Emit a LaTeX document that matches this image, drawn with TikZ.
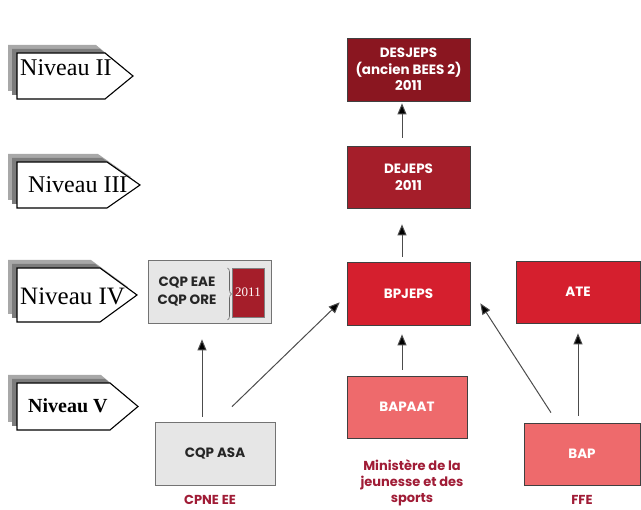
\documentclass[tikz,border=0pt]{standalone}
\usepackage{fontspec}
\setmainfont{Liberation Serif}
\newfontfamily\gothic{Poppins}
\usetikzlibrary{arrows.meta,decorations.pathreplacing,calc}
\definecolor{cdark}{HTML}{8A1620}
\definecolor{cmid}{HTML}{A51E2A}
\definecolor{cred}{HTML}{D51F2E}
\definecolor{cpink}{HTML}{EE6A6C}
\definecolor{clab}{HTML}{A01C36}
\definecolor{cqpfill}{HTML}{E6E6E6}
\definecolor{shadA}{HTML}{A8A8A8}
\definecolor{shadB}{HTML}{7C7C7C}
\newcommand{\nivshape}[5]{%
  \fill[shadA] (#1-9,#2-8) -- (#4-9,#2-8) -- (#5-9,{(#2+#3)/2-8}) -- (#4-9,#3-8) -- (#1-9,#3-8) -- cycle;
  \fill[shadB] (#1-5,#2-4) -- (#4-5,#2-4) -- (#5-5,{(#2+#3)/2-4}) -- (#4-5,#3-4) -- (#1-5,#3-4) -- cycle;
  \draw[fill=white,line width=1.1pt,line join=miter] (#1,#2) -- (#4,#2) -- (#5,{(#2+#3)/2}) -- (#4,#3) -- (#1,#3) -- cycle;}
\begin{document}
\begin{tikzpicture}[x=1pt,y=-1pt,
  box/.style={draw=black!75,line width=0.7pt,minimum width=123pt,minimum height=63pt,inner sep=0pt,align=center,text=white,font=\gothic\bfseries\fontsize{13.5}{16.5}\selectfont},
  cqpbox/.style={box,fill=cqpfill,draw=black!55,text=black!85},
  lab/.style={align=center,text=clab,font=\gothic\bfseries\fontsize{13}{16}\selectfont},
  niv/.style={anchor=base west,inner sep=0pt,font=\fontsize{24}{24}\selectfont},
  arr/.style={draw=black!70,line width=1pt,-{Triangle[length=11pt,width=9pt,fill=black]}}
]
\useasboundingbox (0,0) rectangle (641,510);

% niveau arrows
\nivshape{17}{53}{99}{105}{133}
\node[niv] (n2) at (20,76) {Niveau II};
\nivshape{17}{162}{208}{107}{140}
\node[niv] (n3) at (28,193) {Niveau III};
\nivshape{17}{268}{322}{100}{137}
\node[niv,font=\fontsize{25}{25}\selectfont] (n4) at (20,305) {Niveau IV};
\nivshape{17}{383}{430}{110}{138}
\node[niv,font=\bfseries\fontsize{20}{20}\selectfont] (n5) at (28,413) {Niveau V};

% boxes
\node[box,fill=cdark] (desj) at (408.5,69.5) {DESJEPS\\(ancien BEES 2)\\2011};
\node[box,fill=cmid,minimum height=62pt] (dej) at (408.5,177) {DEJEPS\\2011};
\node[box,fill=cred] (bp) at (408.5,293.5) {BPJEPS};
\node[box,fill=cred,minimum width=124pt,minimum height=62pt] (ate) at (578,292) {ATE};
\node[box,fill=cpink,minimum width=120pt,minimum height=62pt] (bapaat) at (407,407) {BAPAAT};
\node[box,fill=cpink,minimum width=116pt,minimum height=62pt] (bap) at (582,454) {BAP};
\node[cqpbox,minimum width=120pt] (asa) at (215,453.5) {CQP ASA};
\node[cqpbox] (eae) at (209.5,291.5) {};
\node[align=center,inner sep=0pt,text=black!85,font=\gothic\bfseries\fontsize{13.5}{18}\selectfont] (eaet) at (187,292) {CQP EAE\\CQP ORE};
\node[fill=cmid,draw=black!50,line width=0.5pt,minimum width=32pt,minimum height=49pt,inner sep=0pt,text=white!92!pink,font=\fontsize{13}{13}\selectfont] (yr) at (248,292.5) {2011};
\draw[black!60,line width=0.6pt,decorate,decoration={brace,amplitude=4pt}] (227.5,268) -- (227.5,320);

% labels
\node[lab] (cpne) at (210,500) {CPNE EE};
\node[lab] (min) at (412,483) {Ministère de la\\jeunesse et des\\sports};
\node[lab] (ffe) at (582,500) {FFE};

% arrows
\draw[arr] ([xshift=-6.5pt,yshift=8pt]dej.north) -- ([xshift=-6.5pt,yshift=-2pt]desj.south);
\draw[arr] ([xshift=-6.5pt,yshift=5pt]bp.north) -- ([xshift=-6.5pt,yshift=-16pt]dej.south);
\draw[arr] ([xshift=-5pt,yshift=6pt]bapaat.north) -- ([xshift=-6.5pt,yshift=-9pt]bp.south);
\draw[arr] ([xshift=-13pt,yshift=5pt]asa.north) -- ([xshift=-7.5pt,yshift=-16pt]eae.south);
\draw[arr] ([xshift=-4pt,yshift=7pt]bap.north) -- ([yshift=-10pt]ate.south);
\draw[arr] ([xshift=17pt,yshift=15pt]asa.north) -- ([xshift=-7pt,yshift=23pt]bp.south west);
\draw[arr] ([xshift=-31pt,yshift=10pt]bap.north) -- ([xshift=10pt,yshift=22pt]bp.south east);
\end{tikzpicture}
\end{document}
